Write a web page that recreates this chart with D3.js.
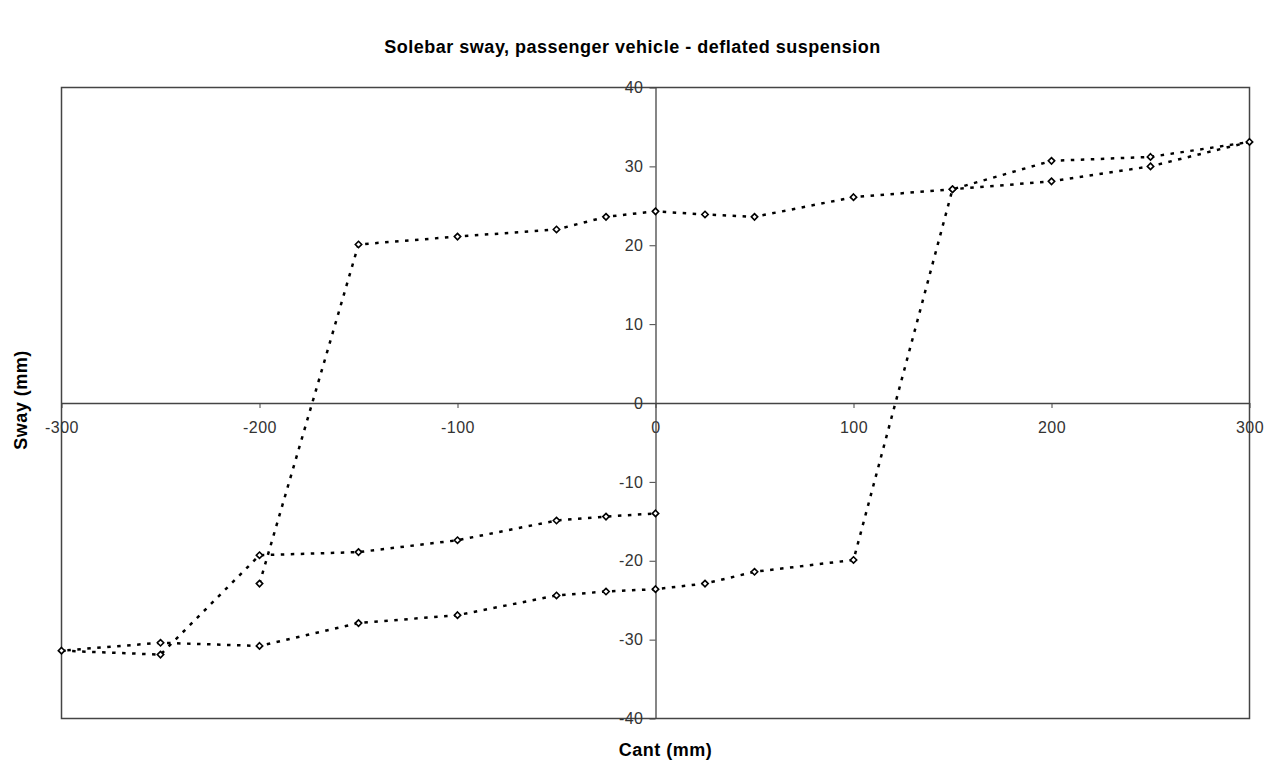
<!DOCTYPE html>
<html>
<head>
<meta charset="utf-8">
<script src="https://cdn.jsdelivr.net/npm/d3@7"></script>
<style>
  body { margin: 0; background: #fff; }
  text { font-family: "Liberation Sans", Arial, sans-serif; }
</style>
</head>
<body>
<div id="canvas"></div>
<script>
"use strict"

/* Data: one run around the loop, cant (mm) and sway (mm) in order */
let cant = [-200, -150, -100, -50, -25, 0, 25, 50, 100, 150, 200, 250, 300,
            250, 200, 150, 100, 50, 25, 0, -25, -50, -100, -150, -200,
            -250, -300, -250, -200, -150, -100, -50, -25, 0];
let sway = [-22.9, 20.1, 21.1, 22.0, 23.6, 24.3, 23.9, 23.6, 26.1, 27.1, 28.1, 30.0, 33.1,
            31.2, 30.7, 27.1, -19.9, -21.4, -22.9, -23.6, -23.9, -24.4, -26.9, -27.9, -30.8,
            -30.4, -31.4, -31.9, -19.3, -18.9, -17.4, -14.9, -14.4, -14.0];
let xTicks = [-300, -200, -100, 0, 100, 200, 300];
let yTicks = [-40, -30, -20, -10, 0, 10, 20, 30, 40];

let title = "Solebar sway, passenger vehicle - deflated suspension";
let xTitle = "Cant (mm)";
let yTitle = "Sway (mm)";

/* Drawing config */
let svgWidth = 1265;
let svgHeight = 762;
let plot = {left: 61.5, top: 87.5, right: 1249.5, bottom: 718.5};

let svg = d3.select("#canvas")
    .append("svg")
    .attr("width", svgWidth)
    .attr("height", svgHeight);

let xScale = d3.scaleLinear()
    .domain([-300, 300])
    .range([plot.left, plot.right]);

let yScale = d3.scaleLinear()
    .domain([-40, 40])
    .range([plot.bottom, plot.top]);

/* plot area border */
svg.append("rect")
    .attr("x", plot.left)
    .attr("y", plot.top)
    .attr("width", plot.right - plot.left)
    .attr("height", plot.bottom - plot.top)
    .attr("fill", "none")
    .attr("stroke", "#444")
    .attr("stroke-width", 1.5);

// plain hyphen for negatives, like the original
let plain = function(d) { return String(d); };

/* axes crossing at zero */
let xAxis = svg.append("g")
    .attr("transform", "translate(0," + yScale(0) + ")")
    .call(d3.axisBottom(xScale)
        .tickValues(xTicks)
        .tickSizeInner(5)
        .tickSizeOuter(0)
        .tickPadding(14)
        .tickFormat(plain));

let yAxis = svg.append("g")
    .attr("transform", "translate(" + xScale(0) + ",0)")
    .call(d3.axisLeft(yScale)
        .tickValues(yTicks)
        .tickSizeInner(6)
        .tickSizeOuter(0)
        .tickPadding(6)
        .tickFormat(plain));

[xAxis, yAxis].forEach(function(g) {
    g.select(".domain").attr("stroke", "#444").attr("stroke-width", 1.3);
    g.selectAll(".tick line").attr("stroke", "#444");
    g.selectAll(".tick text")
        .attr("fill", "#333")
        .style("font-size", "16px")
        .style("letter-spacing", "0.5px")
        .style("font-family", "'Liberation Sans', Arial, sans-serif");
});

/* data line */
let points = cant.map(function(c, i) { return {x: c, y: sway[i]}; });

let line = d3.line()
    .x(function(d) { return xScale(d.x); })
    .y(function(d) { return yScale(d.y); });

svg.append("path")
    .datum(points)
    .attr("d", line)
    .attr("fill", "none")
    .attr("stroke", "black")
    .attr("stroke-width", 2.5)
    .attr("stroke-dasharray", "3.5,6.5");

svg.selectAll(".marker")
    .data(points)
    .join("path")
    .attr("class", "marker")
    .attr("d", d3.symbol().type(d3.symbolDiamond2).size(26))
    .attr("transform", function(d) { return "translate(" + xScale(d.x) + "," + yScale(d.y) + ")"; })
    .attr("fill", "white")
    .attr("stroke", "black")
    .attr("stroke-width", 1.6);

/* titles */
svg.append("text")
    .attr("x", svgWidth / 2)
    .attr("y", 53)
    .attr("text-anchor", "middle")
    .style("font-size", "18px")
    .style("letter-spacing", "0.5px")
    .style("font-weight", "bold")
    .text(title);

svg.append("text")
    .attr("x", (plot.left + plot.right) / 2 + 10)
    .attr("y", 756)
    .attr("text-anchor", "middle")
    .style("font-size", "18px")
    .style("letter-spacing", "0.5px")
    .style("font-weight", "bold")
    .text(xTitle);

svg.append("text")
    .attr("transform", "rotate(-90)")
    .attr("x", -400)
    .attr("y", 27)
    .attr("text-anchor", "middle")
    .style("font-size", "18px")
    .style("letter-spacing", "0.5px")
    .style("font-weight", "bold")
    .text(yTitle);
</script>
</body>
</html>
